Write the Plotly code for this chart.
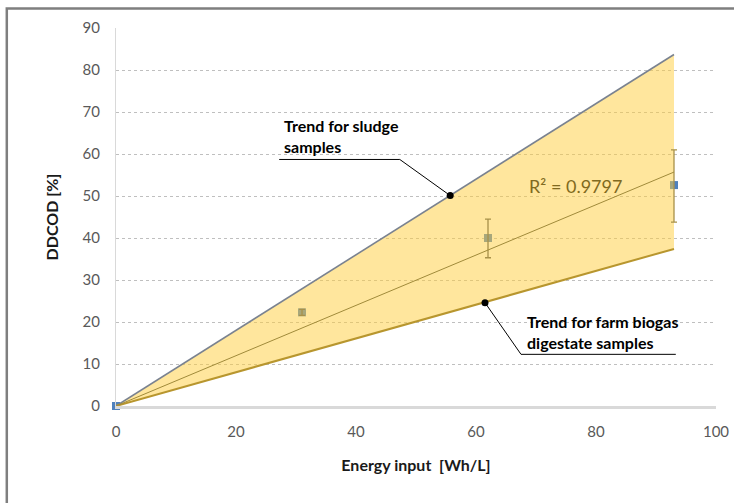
import plotly.graph_objects as go

# ---- data ----
energy = [0, 31, 62, 93]
ddcod = [0, 22.3, 40.0, 52.6]
err_plus = [0, 0.7, 4.5, 8.4]
err_minus = [0, 0.7, 4.7, 8.8]

band_x = [0, 93]
sludge_trend = [0, 83.7]      # upper trend (sludge samples)
farm_trend = [0, 37.4]        # lower trend (farm biogas digestate)
fit_trend = [0, 55.7]         # overall linear trend

x_ticks = [0, 20, 40, 60, 80, 100]
y_ticks = [0, 10, 20, 30, 40, 50, 60, 70, 80, 90]

sludge_callout_x = [27.2, 47.3, 55.7]
sludge_callout_y = [58.7, 58.7, 50.1]
farm_callout_x = [93.3, 67.5, 61.5]
farm_callout_y = [12.3, 12.3, 24.6]

FONT = "Lato"

fig = go.Figure()

# markers (drawn beneath the translucent band)
fig.add_trace(go.Scatter(
    x=energy, y=ddcod, mode="markers",
    marker=dict(symbol="square", size=8, color="#4F81BD"),
    cliponaxis=False, showlegend=False, hoverinfo="skip"))

# upper trend line
fig.add_trace(go.Scatter(
    x=band_x, y=sludge_trend, mode="lines",
    line=dict(color="#7A8290", width=1.6), showlegend=False))

# lower trend line with band fill
fig.add_trace(go.Scatter(
    x=band_x, y=farm_trend, mode="lines", fill="tonexty",
    fillcolor="rgba(255,205,60,0.50)",
    line=dict(color="#B8962E", width=2), showlegend=False))

# error bars on top
fig.add_trace(go.Scatter(
    x=energy, y=ddcod, mode="markers",
    marker=dict(size=1, color="rgba(0,0,0,0)"),
    error_y=dict(type="data", symmetric=False, array=err_plus,
                 arrayminus=err_minus, color="#A8914A", thickness=1.3, width=3),
    showlegend=False, hoverinfo="skip"))

# overall trend line
fig.add_trace(go.Scatter(
    x=band_x, y=fit_trend, mode="lines",
    line=dict(color="#A08A3A", width=1), showlegend=False))

# callouts
fig.add_trace(go.Scatter(
    x=sludge_callout_x, y=sludge_callout_y, mode="lines",
    line=dict(color="black", width=1), showlegend=False))
fig.add_trace(go.Scatter(
    x=farm_callout_x, y=farm_callout_y, mode="lines",
    line=dict(color="black", width=1), showlegend=False))
fig.add_trace(go.Scatter(
    x=[sludge_callout_x[-1], farm_callout_x[-1]],
    y=[sludge_callout_y[-1], farm_callout_y[-1]], mode="markers",
    marker=dict(color="black", size=7), showlegend=False))

fig.add_annotation(x=27.7, y=64.2, xref="x", yref="y", xanchor="left", yanchor="middle",
                   align="left", showarrow=False,
                   text="<b>Trend for sludge<br>samples</b>",
                   font=dict(family=FONT, size=16, color="black"))
fig.add_annotation(x=68.2, y=17.7, xref="x", yref="y", xanchor="left", yanchor="middle",
                   align="left", showarrow=False,
                   text="<b>Trend for farm biogas<br>digestate samples</b>",
                   font=dict(family=FONT, size=16, color="black"))
fig.add_annotation(x=76.5, y=52.5, xref="x", yref="y", xanchor="center", yanchor="middle",
                   showarrow=False, text="R² = 0.9797",
                   font=dict(family=FONT, size=18, color="#806A20"))

# outer border (only left and top edges fall inside the picture)
fig.add_shape(type="path", xref="paper", yref="paper",
              path="M -0.182,-0.6 L -0.182,1.0516 L 1.3,1.0516",
              line=dict(color="#7F7F7F", width=2.5), layer="above")

fig.update_layout(
    width=734, height=503,
    margin=dict(l=116, r=18, t=28, b=97),
    paper_bgcolor="white", plot_bgcolor="white",
    font=dict(family=FONT, size=15, color="#595959"),
    xaxis=dict(range=[0, 100], tickvals=x_ticks, showgrid=False,
               showline=True, linecolor="#D9D9D9", linewidth=3,
               zeroline=False, ticks="", ticklen=0, ticklabelstandoff=10,
               automargin=False,
               tickfont=dict(family=FONT, size=15, color="#595959"),
               title=dict(text="<b>Energy input  [Wh/L]</b>",
                          font=dict(family=FONT, size=16, color="#1a1a1a"),
                          standoff=21)),
    yaxis=dict(range=[0, 90], tickvals=y_ticks, showgrid=True,
               gridcolor="#BFBFBF", griddash="dot", gridwidth=1,
               showline=True, linecolor="#D9D9D9", linewidth=1,
               zeroline=False, ticks="", ticklabelstandoff=12,
               automargin=False,
               tickfont=dict(family=FONT, size=15, color="#595959"),
               title=dict(text="<b>DDCOD [%]</b>",
                          font=dict(family=FONT, size=16, color="#1a1a1a"),
                          standoff=19)),
)

fig.write_html(
    "out.html",
    config={"displayModeBar": False},
    post_script="document.documentElement.style.overflow='hidden';"
                "document.body.style.overflow='hidden';"
                "document.body.style.margin='0';",
)
